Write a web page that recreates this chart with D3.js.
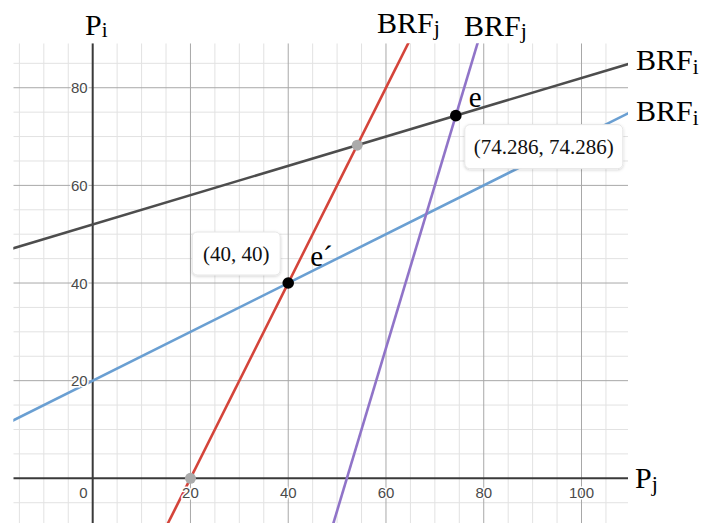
<!DOCTYPE html>
<html>
<head>
<meta charset="utf-8">
<script src="https://cdn.jsdelivr.net/npm/d3@7"></script>
<style>
  html, body { margin: 0; padding: 0; background: #fff; }
  svg { display: block; }
</style>
</head>
<body>
<svg id="chart" width="707" height="523"></svg>
<script>
// ---- data ----
// BRF_i : Pi = a + b * Pj
const brfINames = ["BRF_i (upper)", "BRF_i (lower)"];
const brfIIntercepts = [52, 20];
const brfISlopes = [0.3, 0.5];
const brfIColors = ["#4d4d4d", "#6a9fd2"];
// BRF_j : Pj = a + b * Pi
const brfJNames = ["BRF_j (left)", "BRF_j (right)"];
const brfJIntercepts = [20, 52];
const brfJSlopes = [0.5, 0.3];
const brfJColors = ["#d4443a", "#9074c8"];
// equilibria
const eqNames = ["e", "e´"];
const eqPj = [74.286, 40];
const eqPi = [74.286, 40];
const eqLabels = ["(74.286, 74.286)", "(40, 40)"];
// ticks
const xTicks = [0, 20, 40, 60, 80, 100];
const yTicks = [20, 40, 60, 80];

(function draw() {
// ---- layout ----
const pLeft = 13.3, pRight = 628, pTop = 43.3, pBottom = 523;
const x0px = 92.7, y0px = 478.3, kx = 4.888, ky = 4.882;
const xMin = (pLeft - x0px) / kx, xMax = (pRight - x0px) / kx;
const yMax = (y0px - pTop) / ky, yMin = (y0px - pBottom) / ky;

const x = d3.scaleLinear().domain([xMin, xMax]).range([pLeft, pRight]);
const y = d3.scaleLinear().domain([yMin, yMax]).range([pBottom, pTop]);

const svg = d3.select("#chart");
const defs = svg.append("defs");
defs.append("clipPath").attr("id", "clip")
  .append("rect").attr("x", pLeft).attr("y", pTop).attr("width", pRight - pLeft).attr("height", pBottom - pTop);
const f = defs.append("filter").attr("id", "shadow").attr("x", "-20%").attr("y", "-30%").attr("width", "140%").attr("height", "160%");
f.append("feDropShadow").attr("dx", 0).attr("dy", 1).attr("stdDeviation", 1.5).attr("flood-color", "#000").attr("flood-opacity", 0.18);

const plot = svg.append("g").attr("clip-path", "url(#clip)");

// grid
const minorX = d3.range(-15, 110, 5), minorY = d3.range(-5, 90, 5);
plot.append("g").selectAll("line").data(minorX.filter(v => v % 20 !== 0)).join("line")
  .attr("x1", d => x(d)).attr("x2", d => x(d)).attr("y1", pTop).attr("y2", pBottom)
  .attr("stroke", "#e2e2e2").attr("stroke-width", 1);
plot.append("g").selectAll("line").data(minorY.filter(v => v % 20 !== 0)).join("line")
  .attr("y1", d => y(d)).attr("y2", d => y(d)).attr("x1", pLeft).attr("x2", pRight)
  .attr("stroke", "#e2e2e2").attr("stroke-width", 1);
plot.append("g").selectAll("line").data(minorX.filter(v => v % 20 === 0 && v !== 0)).join("line")
  .attr("x1", d => x(d)).attr("x2", d => x(d)).attr("y1", pTop).attr("y2", pBottom)
  .attr("stroke", "#a8a8a8").attr("stroke-width", 1);
plot.append("g").selectAll("line").data(minorY.filter(v => v % 20 === 0 && v !== 0)).join("line")
  .attr("y1", d => y(d)).attr("y2", d => y(d)).attr("x1", pLeft).attr("x2", pRight)
  .attr("stroke", "#a8a8a8").attr("stroke-width", 1);

// axes
plot.append("line").attr("x1", x(0)).attr("x2", x(0)).attr("y1", pTop).attr("y2", pBottom)
  .attr("stroke", "#3a3a3a").attr("stroke-width", 2);
plot.append("line").attr("y1", y(0)).attr("y2", y(0)).attr("x1", pLeft).attr("x2", pRight)
  .attr("stroke", "#3a3a3a").attr("stroke-width", 2);

// tick labels
const tickFont = "'Liberation Sans', Arial, sans-serif";
svg.append("g").selectAll("text").data(xTicks).join("text")
  .attr("x", d => d === 0 ? x(0) - 5 : x(d))
  .attr("y", y(0) + 19.5)
  .attr("text-anchor", d => d === 0 ? "end" : "middle")
  .attr("font-family", tickFont).attr("font-size", 15).attr("fill", "#4a4a4a")
  .attr("stroke", "#fff").attr("stroke-width", 3).attr("paint-order", "stroke")
  .text(d => d);
svg.append("g").selectAll("text").data(yTicks).join("text")
  .attr("x", x(0) - 5)
  .attr("y", d => y(d) + 5.5)
  .attr("text-anchor", "end")
  .attr("font-family", tickFont).attr("font-size", 15).attr("fill", "#4a4a4a")
  .attr("stroke", "#fff").attr("stroke-width", 3).attr("paint-order", "stroke")
  .text(d => d);

// curves
const line = d3.line().x(d => x(d[0])).y(d => y(d[1]));
brfIIntercepts.forEach((a, i) => {
  const b = brfISlopes[i];
  const pts = [xMin - 5, xMax + 5].map(pj => [pj, a + b * pj]);
  plot.append("path").attr("d", line(pts)).attr("fill", "none")
    .attr("stroke", brfIColors[i]).attr("stroke-width", 2.6);
});
brfJIntercepts.forEach((a, i) => {
  const b = brfJSlopes[i];
  const pts = [yMin - 5, yMax + 5].map(pi => [a + b * pi, pi]);
  plot.append("path").attr("d", line(pts)).attr("fill", "none")
    .attr("stroke", brfJColors[i]).attr("stroke-width", 2.6);
});

// grey points: red BRF_j with Pj-axis, and red BRF_j with upper BRF_i
const a1 = brfIIntercepts[0], b1 = brfISlopes[0], a2 = brfJIntercepts[0], b2 = brfJSlopes[0];
const piInt = (a1 + b1 * a2) / (1 - b1 * b2);
const greyPts = [[a2, 0], [a2 + b2 * piInt, piInt]];
plot.append("g").selectAll("circle").data(greyPts).join("circle")
  .attr("cx", d => x(d[0])).attr("cy", d => y(d[1])).attr("r", 5.5).attr("fill", "#ababab");

// equilibrium points
plot.append("g").selectAll("circle").data(eqPj).join("circle")
  .attr("cx", (d, i) => x(eqPj[i])).attr("cy", (d, i) => y(eqPi[i])).attr("r", 5.8).attr("fill", "#000");

// coordinate label boxes
const serif = "'Liberation Serif', 'Times New Roman', serif";
const boxOffsets = [[9, 9, 158, 44], [-96, -51, 88, 43]]; // dx, dy, w, h relative to point
eqLabels.forEach((lab, i) => {
  const px = x(eqPj[i]), py = y(eqPi[i]);
  const [dx, dy, w, h] = boxOffsets[i];
  const g = svg.append("g");
  g.append("rect").attr("x", px + dx).attr("y", py + dy).attr("width", w).attr("height", h)
    .attr("rx", 5).attr("fill", "#fff").attr("stroke", "#e6e6e6").attr("filter", "url(#shadow)");
  g.append("text").attr("x", px + dx + w / 2).attr("y", py + dy + h / 2 + 7)
    .attr("text-anchor", "middle").attr("font-family", serif).attr("font-size", 21).attr("fill", "#111")
    .text(lab);
});

// point names
svg.append("text").attr("x", x(eqPj[0]) + 13).attr("y", y(eqPi[0]) - 9)
  .attr("font-family", serif).attr("font-size", 29).attr("fill", "#000").text(eqNames[0]);
svg.append("text").attr("x", x(eqPj[1]) + 22).attr("y", y(eqPi[1]) - 17)
  .attr("font-family", serif).attr("font-size", 29).attr("fill", "#000").text(eqNames[1]);

// curve / axis labels with subscripts
function subLabel(px, py, main, sub, size, subSize, subDy) {
  const t = svg.append("text").attr("x", px).attr("y", py)
    .attr("font-family", serif).attr("font-size", size).attr("fill", "#000");
  t.append("tspan").text(main);
  t.append("tspan").attr("font-size", subSize).attr("dy", subDy).text(sub);
}
subLabel(377, 33, "BRF", "j", 30, 22, 2);
subLabel(464, 36, "BRF", "j", 30, 22, 2);
subLabel(636, 70, "BRF", "i", 30, 21, 4);
subLabel(636, 121, "BRF", "i", 30, 21, 4);
subLabel(85, 35, "P", "i", 30, 21, 2);
subLabel(635, 488, "P", "j", 30, 22, 3);
})();
</script>
</body>
</html>
